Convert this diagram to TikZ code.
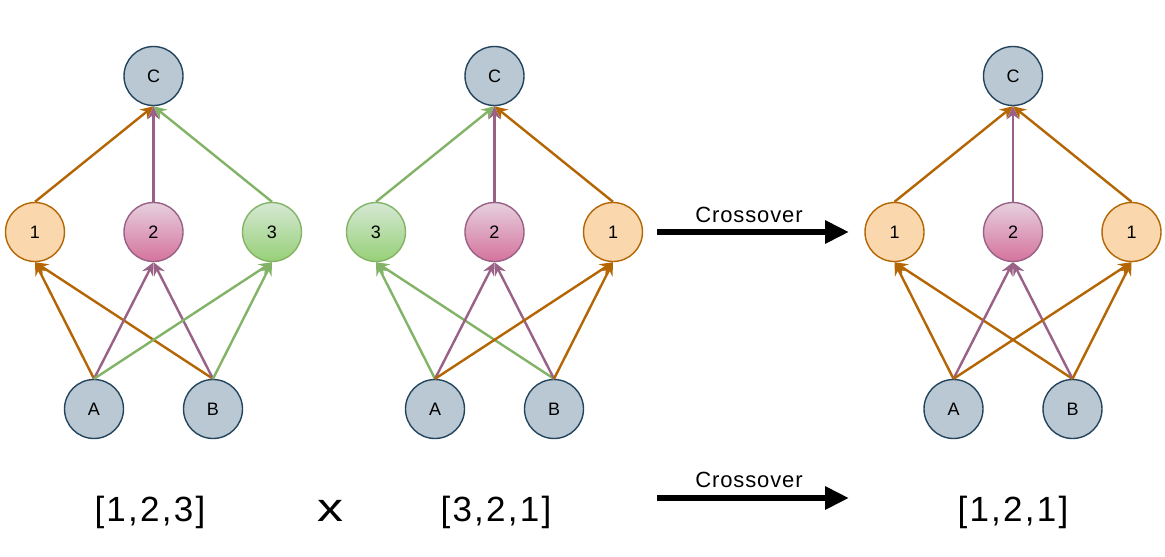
\documentclass[tikz,border=0pt]{standalone}
\usepackage{fontspec}
\setmainfont{Liberation Sans}
\usetikzlibrary{arrows.meta}

\definecolor{grayfill}{HTML}{BAC8D3}
\definecolor{graystroke}{HTML}{23445D}
\definecolor{orangefill}{HTML}{FAD7AC}
\definecolor{orangestroke}{HTML}{B46504}
\definecolor{pinktop}{HTML}{E6D0DE}
\definecolor{pinkbottom}{HTML}{D5739D}
\definecolor{pinkstroke}{HTML}{996185}
\definecolor{greentop}{HTML}{D5E8D4}
\definecolor{greenbottom}{HTML}{97D077}
\definecolor{greenstroke}{HTML}{82B366}

\tikzset{
  unit/.style={circle, minimum size=59pt, inner sep=0pt, line width=1.4pt,
    font=\fontsize{18}{22}\selectfont},
  grayunit/.style={unit, draw=graystroke, fill=grayfill},
  orangeunit/.style={unit, draw=orangestroke, fill=orangefill},
  pinkunit/.style={unit, draw=pinkstroke, top color=pinktop, bottom color=pinkbottom},
  greenunit/.style={unit, draw=greenstroke, top color=greentop, bottom color=greenbottom},
  link/.style={line width=2.4pt, -{Stealth[length=13pt,width=12pt,inset=4.5pt]}},
  orangelink/.style={link, draw=orangestroke, fill=orangestroke},
  pinklink/.style={link, draw=pinkstroke, fill=pinkstroke},
  greenlink/.style={link, draw=greenstroke, fill=greenstroke},
  bigarrow/.style={line width=6.5pt, -{Triangle[length=24pt,width=22pt]}},
  genome/.style={anchor=base, font=\fontsize{35}{40}\selectfont\addfontfeatures{LetterSpace=6.5}},
  arrowlabel/.style={anchor=base, font=\fontsize{22}{26}\selectfont\addfontfeatures{LetterSpace=4}},
}

% One network: #1 name prefix, #2 centre x, #3/#4 colour and label of the
% left hidden unit, #5/#6 colour and label of the right hidden unit
\newcommand{\drawnet}[6]{%
  \node[grayunit] (#1C) at (#2,76) {C};
  \node[#3unit] (#1L) at (#2-118.5,232) {#4};
  \node[pinkunit] (#1M) at (#2,232) {2};
  \node[#5unit] (#1R) at (#2+118.5,232) {#6};
  \node[grayunit] (#1A) at (#2-59.5,409) {A};
  \node[grayunit] (#1B) at (#2+59.5,409) {B};
  \draw[#3link] (#1L.north) -- (#1C.south);
  \draw[pinklink] (#1M.north) -- (#1C.south);
  \draw[#5link] (#1R.north) -- (#1C.south);
  \draw[#3link] (#1A.north) -- (#1L.south);
  \draw[#3link] (#1B.north) -- (#1L.south);
  \draw[pinklink] (#1A.north) -- (#1M.south);
  \draw[pinklink] (#1B.north) -- (#1M.south);
  \draw[#5link] (#1A.north) -- (#1R.south);
  \draw[#5link] (#1B.north) -- (#1R.south);
}

\begin{document}
\begin{tikzpicture}[x=1pt, y=-1pt]
  \fill[white] (0,0) rectangle (1165,557);
  \useasboundingbox (0,0) rectangle (1165,557);

  \drawnet{p}{153.5}{orange}{1}{green}{3}
  \drawnet{q}{494.5}{green}{3}{orange}{1}
  \drawnet{r}{1013}{orange}{1}{orange}{1}

  % crossover arrows
  \coordinate (topstart) at (657,232);
  \coordinate (topend) at (849,232);
  \draw[bigarrow] (topstart) -- (topend);
  \node[arrowlabel] (toplabel) at (749,222) {Crossover};

  \coordinate (botstart) at (657,498);
  \coordinate (botend) at (849,498);
  \draw[bigarrow] (botstart) -- (botend);
  \node[arrowlabel] (botlabel) at (749,487) {Crossover};

  % encodings
  \node[genome] (g1) at (150,521) {[1,2,3]};
  \node[anchor=base, font=\fontsize{40}{46}\selectfont] (times) at (330,521) {\scalebox{1.3}[1]{x}};
  \node[genome] (g2) at (496,521) {[3,2,1]};
  \node[genome] (g3) at (1013,521) {[1,2,1]};
\end{tikzpicture}
\end{document}
